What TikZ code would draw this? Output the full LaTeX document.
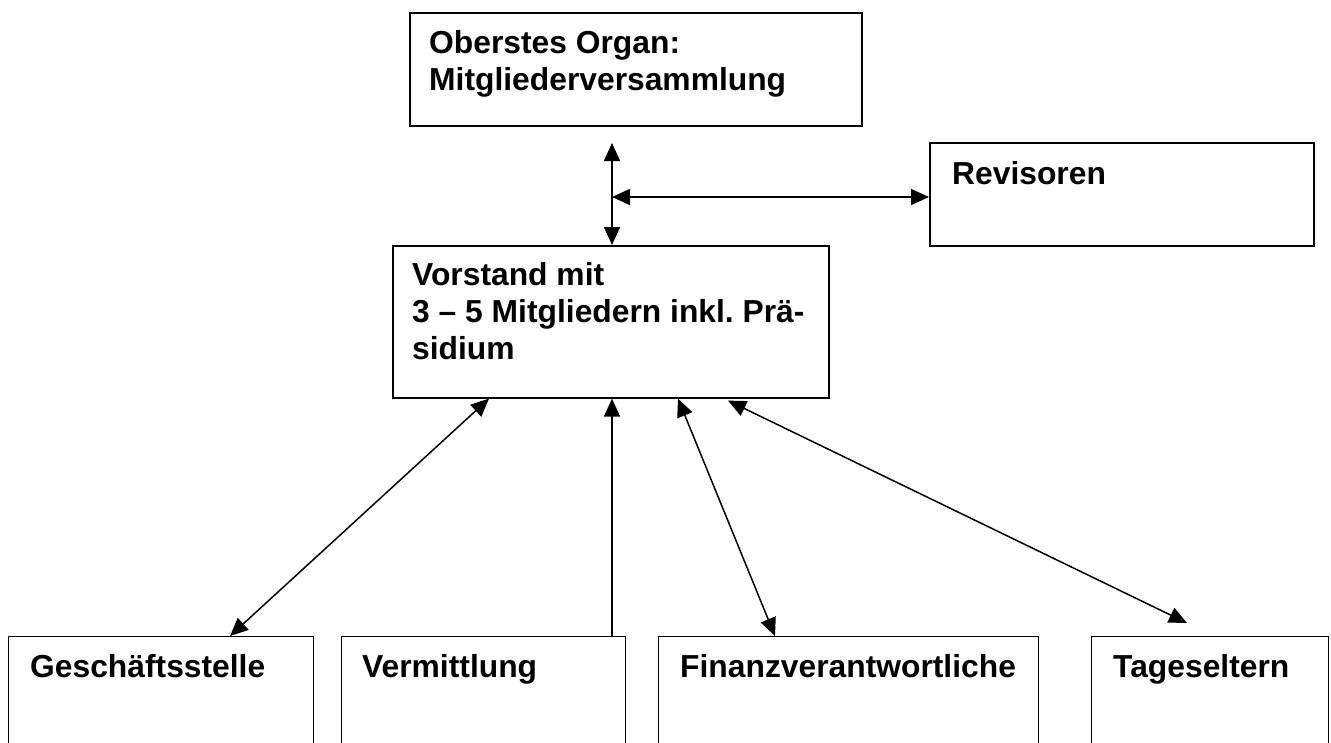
\documentclass[tikz,border=0pt]{standalone}
\usepackage{fontspec}
\setmainfont{Liberation Sans}
\usetikzlibrary{arrows.meta}
\frenchspacing
\begin{document}
\begin{tikzpicture}[x=1pt,y=-1pt,
  box/.style={draw, line width=1.6pt, rectangle, anchor=north west, inner sep=0pt},
  lowbox/.style={draw, line width=1.3pt, rectangle, anchor=north west, inner sep=0pt, minimum height=140pt},
  txt/.style={anchor=base west, inner sep=0pt, align=left,
    font=\fontsize{31.8}{36.8}\selectfont\bfseries\frenchspacing},
  conn/.style={line width=1.5pt},
  dbl/.style={conn, {Triangle[length=18pt,width=16pt]}-{Triangle[length=18pt,width=16pt]}},
  up/.style={conn, -{Triangle[length=18pt,width=16pt]}}]
\clip (0,0) rectangle (1331,742);
\fill[white] (0,0) rectangle (1331,742);

% boxes
\node[box, minimum width=452pt, minimum height=113pt] (org) at (409,12) {};
\node[box, minimum width=384pt, minimum height=103pt] (rev) at (929,142) {};
\node[box, minimum width=436pt, minimum height=152pt] (vor) at (392,245) {};
\node[lowbox, minimum width=305pt] (ges) at (8,636) {};
\node[lowbox, minimum width=284pt] (ver) at (341,636) {};
\node[lowbox, minimum width=380pt] (fin) at (658,636) {};
\node[lowbox, minimum width=237pt] (tag) at (1091,636) {};

% texts (base = baseline of the last line)
\node[txt] (orgt) at ([xshift=20pt,yshift=-78pt]org.north west) {Oberstes Organ:\\Mitgliederversammlung};
\node[txt] (revt) at ([xshift=23pt,yshift=-42pt]rev.north west) {Revisoren};
\node[txt] (vort) at ([xshift=20pt,yshift=-114pt]vor.north west) {Vorstand mit\\3 – 5 Mitgliedern inkl. Prä-\\sidium};
\node[txt] (gest) at ([xshift=22pt,yshift=-41pt]ges.north west) {Geschäftsstelle};
\node[txt] (vert) at ([xshift=21pt,yshift=-41pt]ver.north west) {Vermittlung};
\node[txt] (fint) at ([xshift=22pt,yshift=-41pt]fin.north west) {Finanzverantwortliche};
\node[txt] (tagt) at ([xshift=22pt,yshift=-41pt]tag.north west) {Tageseltern};

% connectors
\coordinate (top) at (612,143);
\coordinate (mid) at (612,197);
\draw[dbl] (top) -- ([xshift=220pt]vor.north west);
\draw[dbl] (mid) -- ([yshift=-55pt]rev.north west);
\draw[dbl] ([xshift=97pt]vor.south west) -- ([xshift=222pt]ges.north west);
\draw[up] ([xshift=271pt]ver.north west) -- ([xshift=220pt]vor.south west);
\draw[dbl] ([xshift=286pt]vor.south west) -- ([xshift=117pt]fin.north west);
\coordinate (tagend) at ([xshift=96pt,yshift=13pt]tag.north west);
\draw[dbl] ([xshift=336pt,yshift=-2pt]vor.south west) -- (tagend);
\end{tikzpicture}
\end{document}
